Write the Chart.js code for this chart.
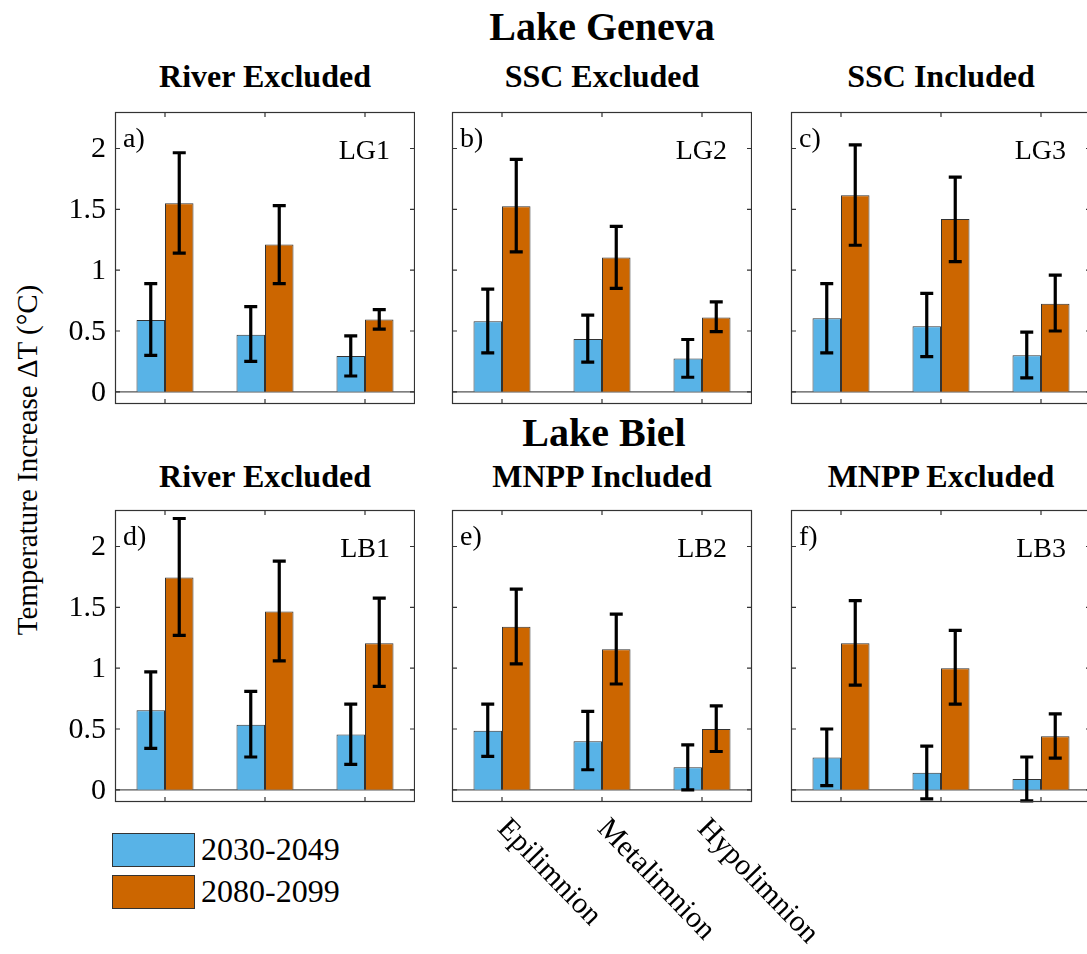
<!DOCTYPE html>
<html>
<head>
<meta charset="utf-8">
<script src="https://cdn.jsdelivr.net/npm/chart.js@4"></script>
<style>
  body { margin: 0; background: #fff; overflow: hidden; width: 1087px; height: 954px; position: relative; font-family: "Liberation Serif", serif; }
  canvas { position: absolute; }
  .t { position: absolute; line-height: 1; white-space: nowrap; text-align: center; color: #000; }
  .lake { font-size: 40px; font-weight: bold; width: 400px; }
  .sub { font-size: 32px; font-weight: bold; width: 300px; }
  #ylab { position: absolute; font-size: 29px; width: 440px; height: 30px; line-height: 30px; text-align: center; transform: rotate(-90deg); white-space: nowrap; }
  .leg { position: absolute; display: flex; align-items: center; font-size: 32px; }
  .leg span.box { display: inline-block; width: 81px; height: 32px; border: 1px solid #333; margin-right: 6px; }
</style>
</head>
<body>
<script>
const layers = ['Epilimnion', 'Metalimnion', 'Hypolimnion'];
const periods = ['2030-2049', '2080-2099'];
const periodColors = ['#58B3E7', '#CC6600'];
const panelCodes = ['LG1', 'LG2', 'LG3', 'LB1', 'LB2', 'LB3'];
const panelLetters = ['a)', 'b)', 'c)', 'd)', 'e)', 'f)'];
const panelTitles = ['River Excluded', 'SSC Excluded', 'SSC Included', 'River Excluded', 'MNPP Included', 'MNPP Excluded'];
const lakeTitles = ['Lake Geneva', 'Lake Biel'];
const yTicks = [0, 0.5, 1, 1.5, 2];

// one row per panel (LG1..LB3), one value per layer
const mean2030 = [
  [0.59, 0.47, 0.295],
  [0.58, 0.435, 0.275],
  [0.605, 0.54, 0.30],
  [0.655, 0.535, 0.455],
  [0.485, 0.40, 0.185],
  [0.265, 0.14, 0.09]
];
const low2030 = [
  [0.30, 0.25, 0.13],
  [0.32, 0.245, 0.12],
  [0.32, 0.29, 0.115],
  [0.34, 0.27, 0.21],
  [0.275, 0.165, 0.0],
  [0.035, -0.075, -0.09]
];
const high2030 = [
  [0.89, 0.70, 0.46],
  [0.845, 0.63, 0.43],
  [0.89, 0.81, 0.49],
  [0.97, 0.81, 0.705],
  [0.705, 0.645, 0.37],
  [0.50, 0.36, 0.27]
];
const mean2080 = [
  [1.55, 1.21, 0.595],
  [1.525, 1.105, 0.61],
  [1.615, 1.42, 0.725],
  [1.745, 1.465, 1.205],
  [1.34, 1.155, 0.50],
  [1.205, 1.0, 0.44]
];
const low2080 = [
  [1.14, 0.89, 0.515],
  [1.15, 0.85, 0.495],
  [1.205, 1.07, 0.50],
  [1.27, 1.06, 0.85],
  [1.035, 0.87, 0.315],
  [0.86, 0.705, 0.26]
];
const high2080 = [
  [1.965, 1.53, 0.675],
  [1.91, 1.36, 0.74],
  [2.03, 1.765, 0.96],
  [2.23, 1.88, 1.575],
  [1.65, 1.445, 0.69],
  [1.555, 1.31, 0.625]
];

// layout of the axes boxes
const boxLeft = [115, 452, 791];
const boxTop = [112, 510];
const boxW = 300, boxH = 292;
const padL = 60, padT = 20;

function addDiv(cls, text, left, top) {
  const d = document.createElement('div');
  d.className = 't ' + cls;
  d.textContent = text;
  d.style.left = left + 'px';
  d.style.top = top + 'px';
  document.body.appendChild(d);
  return d;
}

// titles
addDiv('lake', lakeTitles[0], 602 - 200, 7);
addDiv('lake', lakeTitles[1], 604 - 200, 413);
panelTitles.forEach((t, i) => {
  const r = Math.floor(i / 3), c = i % 3;
  addDiv('sub', t, boxLeft[c], r === 0 ? 60 : 460);
});

// y label
const yl = document.createElement('div');
yl.id = 'ylab';
yl.textContent = 'Temperature Increase ΔT (°C)';
yl.style.left = (27 - 220) + 'px';
yl.style.top = (460 - 15) + 'px';
document.body.appendChild(yl);

// legend
periods.forEach((p, i) => {
  const d = document.createElement('div');
  d.className = 'leg';
  d.style.left = '112px';
  d.style.top = (831 + i * 42) + 'px';
  d.innerHTML = '<span class="box" style="background:' + periodColors[i] + '"></span>' + p;
  document.body.appendChild(d);
});

const errorBars = {
  id: 'errorBars',
  afterDatasetsDraw(chart) {
    const ctx = chart.ctx;
    const y = chart.scales.y;
    const p = chart.options.plugins.errorBars;
    ctx.save();
    ctx.strokeStyle = '#000';
    ctx.lineWidth = 3.2;
    chart.data.datasets.forEach((ds, di) => {
      const meta = chart.getDatasetMeta(di);
      meta.data.forEach((bar, i) => {
        const lo = y.getPixelForValue(p.low[di][i]);
        const hi = y.getPixelForValue(p.high[di][i]);
        ctx.beginPath();
        ctx.moveTo(bar.x, lo); ctx.lineTo(bar.x, hi);
        ctx.moveTo(bar.x - 6.5, lo); ctx.lineTo(bar.x + 6.5, lo);
        ctx.moveTo(bar.x - 6.5, hi); ctx.lineTo(bar.x + 6.5, hi);
        ctx.stroke();
      });
    });
    ctx.restore();
  }
};

const frame = {
  id: 'frame',
  beforeDatasetsDraw(chart) {
    const { ctx, chartArea: a } = chart;
    const y0 = chart.scales.y.getPixelForValue(0);
    ctx.save();
    ctx.strokeStyle = '#555';
    ctx.lineWidth = 1.2;
    ctx.beginPath();
    ctx.moveTo(a.left, y0); ctx.lineTo(a.right, y0);
    ctx.stroke();
    ctx.restore();
  },
  afterDraw(chart) {
    const { ctx, chartArea: a } = chart;
    const p = chart.options.plugins.frame;
    const xs = chart.scales.x, ys = chart.scales.y;
    ctx.save();
    ctx.strokeStyle = '#333';
    ctx.lineWidth = 1.2;
    ctx.strokeRect(a.left + 0.5, a.top + 0.5, a.right - a.left - 1, a.bottom - a.top - 1);
    ctx.beginPath();
    yTicks.forEach(v => {
      const py = ys.getPixelForValue(v);
      ctx.moveTo(a.left, py); ctx.lineTo(a.left + 5, py);
      ctx.moveTo(a.right, py); ctx.lineTo(a.right - 5, py);
    });
    layers.forEach((l, i) => {
      const px = xs.getPixelForValue(i);
      ctx.moveTo(px, a.top); ctx.lineTo(px, a.top + 5);
      ctx.moveTo(px, a.bottom); ctx.lineTo(px, a.bottom - 5);
    });
    ctx.stroke();

    ctx.fillStyle = '#000';
    if (p.tickLabels) {
      ctx.font = '30px "Liberation Serif"';
      ctx.textAlign = 'right';
      ctx.textBaseline = 'middle';
      yTicks.forEach(v => {
        ctx.fillText(String(v), a.left - 9, ys.getPixelForValue(v) + 1);
      });
    }

    ctx.font = '28px "Liberation Serif"';
    ctx.textBaseline = 'alphabetic';
    ctx.textAlign = 'left';
    ctx.fillText(p.letter, a.left + 8, a.top + 35);
    ctx.textAlign = 'right';
    ctx.fillText(p.code, a.right - 25, a.top + 47);

    if (p.layerLabels) {
      ctx.font = '30px "Liberation Serif"';
      ctx.textAlign = 'left';
      ctx.textBaseline = 'middle';
      layers.forEach((l, i) => {
        const px = xs.getPixelForValue(i);
        ctx.save();
        ctx.translate(px, a.bottom + 22);
        ctx.rotate(46 * Math.PI / 180);
        ctx.fillText(l, 0, 0);
        ctx.restore();
      });
    }
    ctx.restore();
  }
};

panelCodes.forEach((code, k) => {
  const r = Math.floor(k / 3), c = k % 3;
  const padB = k === 4 ? 150 : 20;
  const padR = k === 4 ? 120 : 0;
  const cv = document.createElement('canvas');
  cv.width = padL + boxW + padR;
  cv.height = padT + boxH + padB;
  cv.style.left = (boxLeft[c] - padL) + 'px';
  cv.style.top = (boxTop[r] - padT) + 'px';
  document.body.appendChild(cv);

  new Chart(cv, {
    type: 'bar',
    data: {
      labels: layers,
      datasets: [
        { label: periods[0], data: mean2030[k], backgroundColor: periodColors[0], borderColor: '#333', borderWidth: 1 },
        { label: periods[1], data: mean2080[k], backgroundColor: periodColors[1], borderColor: '#333', borderWidth: 1 }
      ]
    },
    options: {
      responsive: false,
      animation: false,
      devicePixelRatio: 1,
      layout: { padding: { left: padL, right: padR, top: padT, bottom: padB } },
      datasets: { bar: { categoryPercentage: 0.57, barPercentage: 1.0 } },
      plugins: {
        legend: { display: false },
        tooltip: { enabled: false },
        errorBars: { low: [low2030[k], low2080[k]], high: [high2030[k], high2080[k]] },
        frame: { letter: panelLetters[k], code: code, layerLabels: k === 4, tickLabels: c === 0 }
      },
      scales: {
        x: { display: false, offset: true },
        y: { display: false, min: -0.1, max: 2.3 }
      }
    },
    plugins: [frame, errorBars]
  });
});
</script>
</body>
</html>
